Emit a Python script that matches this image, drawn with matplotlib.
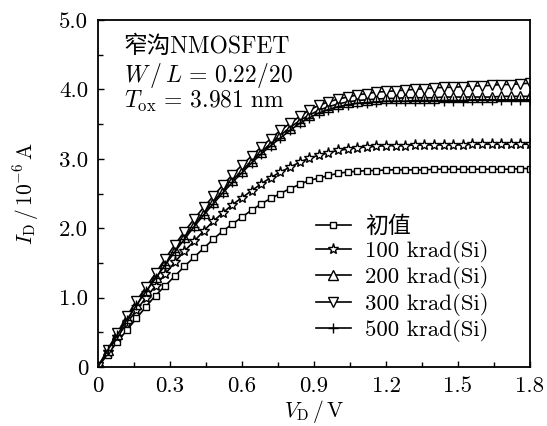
import matplotlib
matplotlib.use("Agg")
import matplotlib.pyplot as plt
from matplotlib.ticker import MultipleLocator, FuncFormatter

plt.rcParams['font.family'] = ['cmr10', 'Noto Sans CJK SC', 'DejaVu Sans']
plt.rcParams['mathtext.fontset'] = 'cm'
plt.rcParams['axes.unicode_minus'] = False

# ---- data ----
vd = [0.00, 0.04, 0.08, 0.12, 0.16, 0.20, 0.24, 0.28, 0.32, 0.36,
      0.40, 0.44, 0.48, 0.52, 0.56, 0.60, 0.64, 0.68, 0.72, 0.76,
      0.80, 0.84, 0.88, 0.92, 0.96, 1.00, 1.04, 1.08, 1.12, 1.16,
      1.20, 1.24, 1.28, 1.32, 1.36, 1.40, 1.44, 1.48, 1.52, 1.56,
      1.60, 1.64, 1.68, 1.72, 1.76, 1.80]

id_init = [0.00, 0.18, 0.36, 0.53, 0.70, 0.87, 1.03, 1.17, 1.31, 1.45,
           1.58, 1.71, 1.84, 1.96, 2.06, 2.16, 2.26, 2.35, 2.43, 2.50,
           2.57, 2.63, 2.69, 2.72, 2.76, 2.79, 2.81, 2.82, 2.83, 2.83,
           2.84, 2.84, 2.84, 2.84, 2.84, 2.85, 2.85, 2.85, 2.85, 2.85,
           2.85, 2.85, 2.85, 2.85, 2.86, 2.86]

id_100 = [0.00, 0.22, 0.43, 0.63, 0.82, 1.00, 1.17, 1.34, 1.51, 1.67,
          1.81, 1.96, 2.10, 2.22, 2.34, 2.44, 2.54, 2.64, 2.73, 2.81,
          2.88, 2.95, 3.01, 3.05, 3.09, 3.12, 3.14, 3.16, 3.17, 3.18,
          3.19, 3.19, 3.19, 3.20, 3.20, 3.20, 3.20, 3.20, 3.20, 3.21,
          3.21, 3.21, 3.21, 3.21, 3.21, 3.21]

id_200 = [0.00, 0.24, 0.47, 0.70, 0.91, 1.11, 1.30, 1.50, 1.69, 1.87,
          2.05, 2.22, 2.38, 2.54, 2.69, 2.83, 2.97, 3.10, 3.22, 3.34,
          3.45, 3.55, 3.63, 3.70, 3.75, 3.79, 3.82, 3.84, 3.85, 3.86,
          3.87, 3.87, 3.88, 3.88, 3.88, 3.88, 3.89, 3.89, 3.89, 3.89,
          3.89, 3.89, 3.90, 3.90, 3.90, 3.90]

id_300 = [0.00, 0.25, 0.49, 0.73, 0.95, 1.15, 1.35, 1.56, 1.76, 1.95,
          2.13, 2.30, 2.46, 2.62, 2.77, 2.91, 3.04, 3.17, 3.29, 3.41,
          3.51, 3.61, 3.70, 3.77, 3.82, 3.86, 3.89, 3.92, 3.94, 3.96,
          3.97, 3.98, 3.99, 4.00, 4.01, 4.02, 4.03, 4.03, 4.04, 4.05,
          4.05, 4.06, 4.07, 4.07, 4.08, 4.09]

id_500 = [0.00, 0.24, 0.46, 0.68, 0.89, 1.09, 1.28, 1.47, 1.66, 1.84,
          2.02, 2.19, 2.35, 2.51, 2.66, 2.80, 2.94, 3.07, 3.19, 3.30,
          3.41, 3.51, 3.59, 3.66, 3.71, 3.75, 3.78, 3.80, 3.81, 3.82,
          3.83, 3.83, 3.83, 3.84, 3.84, 3.84, 3.84, 3.84, 3.84, 3.85,
          3.85, 3.85, 3.85, 3.85, 3.85, 3.85]

labels = ['初值', '100 krad(Si)', '200 krad(Si)', '300 krad(Si)', '500 krad(Si)']

# ---- figure ----
fig = plt.figure(figsize=(5.47, 4.26), dpi=100)
ax = fig.add_axes([98/547, 1-367/426, (530-98)/547, (367-20)/426])

styles = [
    dict(marker='s', ms=4.6),
    dict(marker='*', ms=8.0),
    dict(marker='^', ms=7.8),
    dict(marker='v', ms=7.8),
    dict(marker='+', ms=7.8),
]
series = [id_init, id_100, id_200, id_300, id_500]
for y, lab, st in zip(series, labels, styles):
    ax.plot(vd, y, color='black', lw=1.2, marker=st['marker'], ms=st['ms'],
            mfc='white' if st['marker'] != '+' else 'black', mec='black', mew=1.0,
            label=lab)

ax.set_xlim(0, 1.8)
ax.set_ylim(0, 5.0)
ax.xaxis.set_major_locator(MultipleLocator(0.3))
ax.xaxis.set_minor_locator(MultipleLocator(0.15))
ax.yaxis.set_major_locator(MultipleLocator(1.0))
ax.yaxis.set_minor_locator(MultipleLocator(0.5))
fmt = FuncFormatter(lambda v, p: '0' if abs(v) < 1e-9 else f'{v:.1f}')
ax.xaxis.set_major_formatter(fmt)
ax.yaxis.set_major_formatter(fmt)
ax.tick_params(which='both', direction='in', top=False, right=False, labelsize=16.5, width=1.0)
ax.tick_params(which='major', length=4.5)
ax.tick_params(which='minor', length=3.5)
ax.tick_params(axis='y', which='major', pad=7)
ax.tick_params(axis='x', which='major', pad=7)
for s in ax.spines.values():
    s.set_linewidth(1.3)

ax.set_xlabel(r'$V_{\mathrm{D}}\,/\,\mathrm{V}$', fontsize=15.5, labelpad=1)
ax.set_ylabel(r'$I_{\mathrm{D}}\,/\,10^{-6}\,\mathrm{A}$', fontsize=15.5, labelpad=13)

ax.text(0.06, 0.922, '窄沟NMOSFET', transform=ax.transAxes, fontsize=17, va='center', ha='left')
ax.text(0.06, 0.841, r'$W\,/\,L\,=\,0.22/20$', transform=ax.transAxes, fontsize=17, va='center', ha='left')
ax.text(0.06, 0.764, r'$T_{\mathrm{ox}}\,=\,3.981\ \mathrm{nm}$', transform=ax.transAxes, fontsize=17, va='center', ha='left')

leg = ax.legend(loc='upper left', bbox_to_anchor=(0.505, 0.438), frameon=False,
                fontsize=16.5, handlelength=1.5, handletextpad=0.65, labelspacing=0.15,
                borderpad=0, borderaxespad=0)

fig.savefig('out.png', dpi=100)
